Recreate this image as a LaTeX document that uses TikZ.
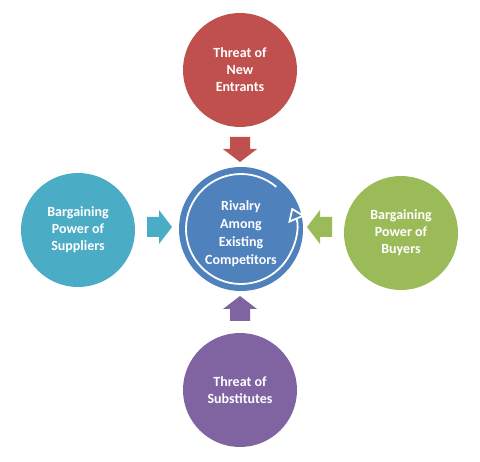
\documentclass[tikz,border=0pt]{standalone}
\usepackage{fontspec}
\setmainfont{Carlito}
\usetikzlibrary{arrows.meta}
\definecolor{tred}{HTML}{C0504D}
\definecolor{tteal}{HTML}{4BACC6}
\definecolor{tgreen}{HTML}{9BBB59}
\definecolor{tpurple}{HTML}{8064A2}
\definecolor{tblue}{HTML}{4F81BD}
\begin{document}
\begin{tikzpicture}[x=1pt,y=-1pt,
  force/.style={circle, minimum size=114pt, inner sep=0pt, text=white,
    font=\fontsize{14}{17}\selectfont\bfseries, align=center},
  label/.style={text=white, font=\fontsize{14}{18}\selectfont\bfseries, align=center, inner sep=0pt},
  blockarrow/.pic={\path[pic actions] (-12,-10) -- (0,-10) -- (0,-17) -- (13,0) -- (0,17) -- (0,10) -- (-12,10) -- cycle;}]
\useasboundingbox[fill=white] (0,0) rectangle (480,462);
% centre
\node[force, fill=tblue, minimum size=124pt] (rival) at (241,229) {};
\draw[white, line width=1.8pt, -{Triangle[open, length=13pt, width=18pt]}]
  (rival.center) ++(-50:55) arc[start angle=-50, end angle=-383, radius=55];
\node[label] (rivaltext) at (241,234) {Rivalry\\Among\\Existing\\Competitors};
% outer forces
\node[force, fill=tred] (entrants) at (240,70) {Threat of\\New\\Entrants};
\node[force, fill=tteal] (suppliers) at (78,230) {Bargaining\\Power of\\Suppliers};
\node[force, fill=tgreen] (buyers) at (401,233) {Bargaining\\Power of\\Buyers};
\node[force, fill=tpurple] (substitutes) at (240,390) {Threat of\\Substitutes};
% block arrows
\pic[fill=tred, rotate=-90] at (240,149) {blockarrow};
\pic[fill=tteal] at (159,227) {blockarrow};
\pic[fill=tgreen, rotate=180] at (320,227) {blockarrow};
\pic[fill=tpurple, rotate=90] at (240,309) {blockarrow};
\end{tikzpicture}
\end{document}
